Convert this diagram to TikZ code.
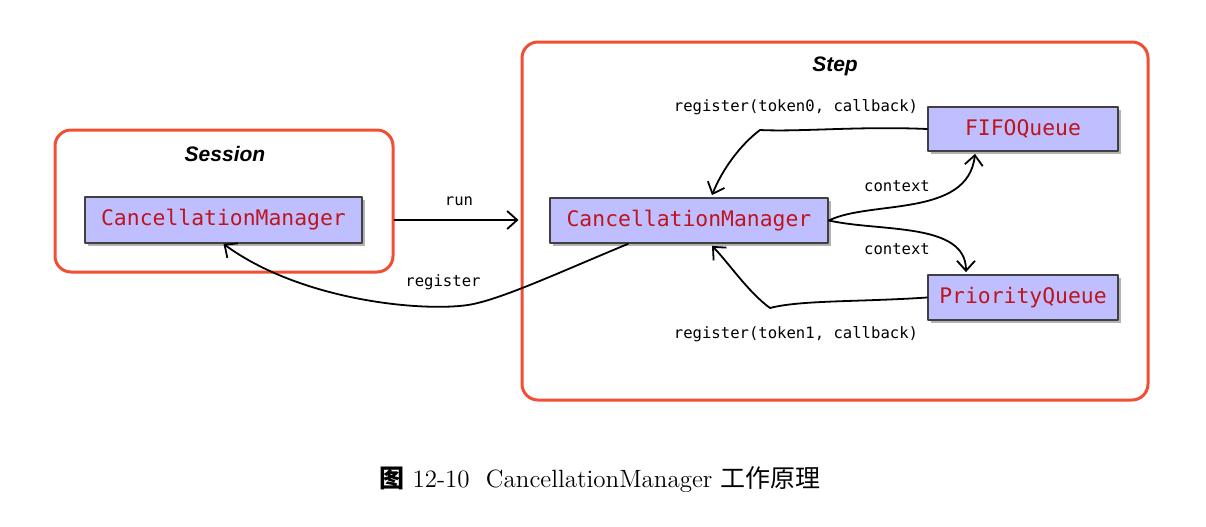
\documentclass[tikz,border=0pt]{standalone}
\usepackage{fontspec}
\usepackage{tikz}
\usetikzlibrary{arrows.meta,shadows}
\newfontfamily\monof{DejaVu Sans Mono}
\newfontfamily\titlef{Liberation Sans}
\newfontfamily\cjk{Noto Sans CJK SC}
\definecolor{framered}{RGB}{242,78,52}
\definecolor{boxfill}{RGB}{191,191,255}
\definecolor{boxtext}{RGB}{190,20,30}

\begin{document}
\begin{tikzpicture}[line cap=round,line join=round,>={Straight Barb[length=5pt,width=9pt]},x=0.5pt,y=-0.5pt,
  frame/.style={draw=framered,line width=1.5pt,rounded corners=8pt,inner sep=0pt},
  cls/.style={draw=black!75,line width=0.9pt,fill=boxfill,text=boxtext,inner sep=0pt,
    font=\monof\fontsize{10.7}{13}\selectfont,
    drop shadow={shadow xshift=1.5pt,shadow yshift=-1.5pt,fill=black,opacity=0.3}},
  lbl/.style={font=\monof\fontsize{7.8}{9}\selectfont},
  ttl/.style={font=\titlef\bfseries\itshape\fontsize{10.5}{12}\selectfont},
  conn/.style={->,line width=0.9pt}]
\useasboundingbox (0,0) rectangle (1206,526);
% frames
\node [frame,minimum width=169pt,minimum height=71pt] (session) at (224,201) {};
\node [frame,minimum width=313pt,minimum height=179pt] (step) at (835,221) {};
\node [ttl] (sessiontitle) at (225,154) {Session};
\node [ttl] (steptitle) at (835,66) {Step};
% classes
\node [cls,minimum width=138.5pt,minimum height=23pt] (cmA) at (223.5,220) {CancellationManager};
\node [cls,minimum width=139pt,minimum height=22.5pt] (cmB) at (689,220.5) {CancellationManager};
\node [cls,minimum width=95pt,minimum height=22pt] (fifo) at (1023,129) {FIFOQueue};
\node [cls,minimum width=95pt,minimum height=22.5pt] (pq) at (1023,297.5) {PriorityQueue};
% labels
\node [lbl] (runlbl) at (459,201) {run};
\node [lbl] (reglbl) at (443,282) {register};
\node [lbl] (tok0lbl) at (796,107) {register(token0, callback)};
\node [lbl] (tok1lbl) at (796,334) {register(token1, callback)};
\node [lbl] (ctxA) at (897,186) {context};
\node [lbl] (ctxB) at (897,249) {context};
% connectors
\draw [conn] (session.east |- cmA) -- ([xshift=-1pt]step.west |- cmA);
\draw [conn] ([xshift=-30.5pt]cmB.south) .. controls (560,272) and (500,300) .. (468,305)
  .. controls (420,312) and (300,300) .. (cmA.south);
\draw [conn] (fifo.west) .. controls (860,126) and (800,132) .. (760,130)
  .. controls (740,145) and (722,170) .. ([xshift=11.5pt,yshift=1pt]cmB.north);
\draw [conn] (cmB.east) .. controls (870,200) and (968,218) .. ([xshift=-24pt,yshift=-1pt]fifo.south);
\draw [conn] (cmB.east) .. controls (880,232) and (966,222) .. ([xshift=-28.5pt,yshift=1pt]pq.north);
\draw [conn] (pq.west) .. controls (860,302) and (800,300) .. (770,308)
  .. controls (748,292) and (728,262) .. ([xshift=11.5pt,yshift=-1pt]cmB.south);
% caption
\node [font=\fontsize{12.5}{15}\selectfont] (caption) at (600,480)
  {{\cjk\bfseries 图}\ 12-10\ \ CancellationManager {\cjk 工作原理}};
\end{tikzpicture}
\end{document}
